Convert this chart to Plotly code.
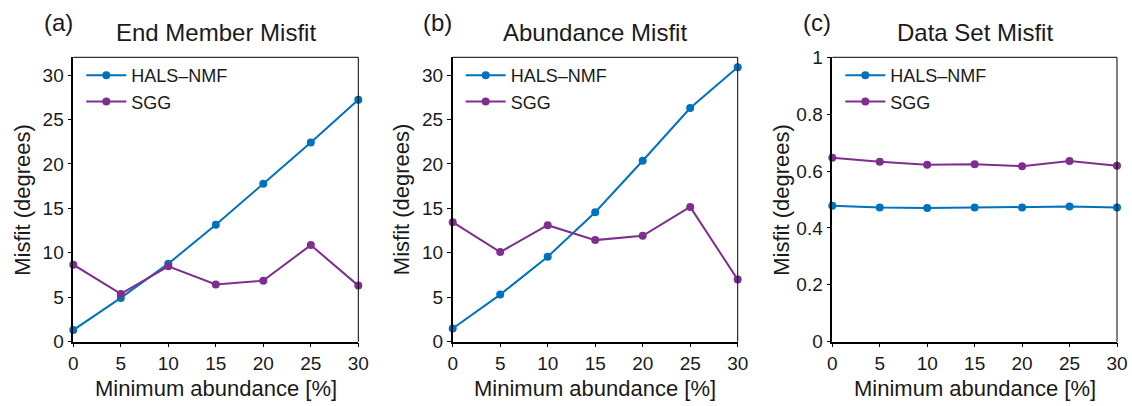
import plotly.graph_objects as go

x_vals = [0, 5, 10, 15, 20, 25, 30]

# (a) End Member Misfit
a_hals = [1.31, 4.93, 8.78, 13.15, 17.78, 22.41, 27.23]
a_sgg = [8.67, 5.38, 8.48, 6.43, 6.87, 10.87, 6.31]
# (b) Abundance Misfit
b_hals = [1.49, 5.30, 9.56, 14.57, 20.36, 26.30, 30.89]
b_sgg = [13.45, 10.09, 13.11, 11.43, 11.92, 15.17, 6.99]
# (c) Data Set Misfit
c_hals = [0.478, 0.472, 0.470, 0.472, 0.472, 0.475, 0.472]
c_sgg = [0.647, 0.633, 0.622, 0.624, 0.617, 0.635, 0.619]

panel_titles = ["End Member Misfit", "Abundance Misfit", "Data Set Misfit"]
panel_labels = ["(a)", "(b)", "(c)"]
series_names = ["HALS\u2013NMF", "SGG"]
x_title = "Minimum abundance [%]"
y_title = "Misfit (degrees)"

BLUE = "#0072BD"
PURPLE = "#7E2F8E"
TXT = "#1a1a1a"
FONT = "Liberation Sans, Arial, sans-serif"

W, H = 1132, 406
# plot area pixel boxes
boxes = [(73.3, 358.3), (452.7, 737.7), (832.3, 1117.0)]
top_px, bot_px = 57.3, 341.7
ydom = [1 - bot_px / H, 1 - top_px / H]

data = [(a_hals, a_sgg), (b_hals, b_sgg), (c_hals, c_sgg)]
yranges = [[0, 32], [0, 32], [0, 1]]
ytickvals = [[0, 5, 10, 15, 20, 25, 30], [0, 5, 10, 15, 20, 25, 30],
             [0, 0.2, 0.4, 0.6, 0.8, 1]]
yticktext = [["0", "5", "10", "15", "20", "25", "30"],
             ["0", "5", "10", "15", "20", "25", "30"],
             ["0", "0.2", "0.4", "0.6", "0.8", "1"]]

fig = go.Figure()
layout = dict(
    width=W, height=H,
    margin=dict(l=0, r=0, t=0, b=0, autoexpand=False),
    paper_bgcolor="white", plot_bgcolor="white",
    font=dict(family=FONT, size=18, color=TXT),
    showlegend=True,
)
annotations = []
shapes = []
for i, ((hals, sgg), (x0, x1)) in enumerate(zip(data, boxes)):
    xa = "x" if i == 0 else f"x{i+1}"
    ya = "y" if i == 0 else f"y{i+1}"
    lg = "legend" if i == 0 else f"legend{i+1}"
    for vals, name, col in [(hals, series_names[0], BLUE), (sgg, series_names[1], PURPLE)]:
        fig.add_trace(go.Scatter(
            x=x_vals, y=vals, name=name, mode="lines+markers",
            line=dict(color=col, width=2),
            marker=dict(color=col, size=8),
            xaxis=xa, yaxis=ya, legend=lg, cliponaxis=False,
        ))
    kx = "xaxis" if i == 0 else f"xaxis{i+1}"
    ky = "yaxis" if i == 0 else f"yaxis{i+1}"
    layout[kx] = dict(
        domain=[x0 / W, x1 / W], anchor=ya, range=[0, 30],
        tickvals=x_vals, ticktext=[str(v) for v in x_vals],
        ticks="outside", ticklen=4, tickwidth=1, tickcolor="black",
        showline=True, linecolor="black", linewidth=1.5,
        showgrid=False, zeroline=False, fixedrange=True,
        tickfont=dict(size=19, family=FONT, color=TXT),
    )
    layout[ky] = dict(
        domain=ydom, anchor=xa, range=yranges[i],
        tickvals=ytickvals[i], ticktext=yticktext[i],
        ticks="outside", ticklen=4, tickwidth=1, tickcolor="black",
        showline=True, linecolor="black", linewidth=1.5,
        showgrid=False, zeroline=False, fixedrange=True,
        tickfont=dict(size=19, family=FONT, color=TXT),
    )
    layout[lg] = dict(
        x=(x0 + 8) / W, y=1 - 57 / H, xanchor="left", yanchor="top",
        bgcolor="rgba(0,0,0,0)", borderwidth=0,
        font=dict(size=18, family=FONT, color=TXT),
        itemwidth=40, tracegroupgap=0,
    )
    # thin top and right frame lines
    shapes.append(dict(type="line", xref=f"{xa} domain", yref=f"{ya} domain",
                       x0=0, x1=1, y0=1, y1=1, line=dict(color="black", width=1)))
    shapes.append(dict(type="line", xref=f"{xa} domain", yref=f"{ya} domain",
                       x0=1, x1=1, y0=0, y1=1, line=dict(color="black", width=1)))
    cx = (x0 + x1) / 2
    annotations.append(dict(text=panel_titles[i], x=cx / W, y=1 - 33 / H,
                            xref="paper", yref="paper", showarrow=False,
                            xanchor="center", yanchor="middle",
                            font=dict(size=24, family=FONT, color=TXT)))
    annotations.append(dict(text=panel_labels[i], x=(x0 - 15) / W, y=1 - 22 / H,
                            xref="paper", yref="paper", showarrow=False,
                            xanchor="center", yanchor="middle",
                            font=dict(size=24, family=FONT, color=TXT)))
    annotations.append(dict(text=x_title, x=cx / W, y=1 - 388 / H,
                            xref="paper", yref="paper", showarrow=False,
                            xanchor="center", yanchor="middle",
                            font=dict(size=22, family=FONT, color=TXT)))
    annotations.append(dict(text=y_title, x=(x0 - 51) / W, y=1 - 199.5 / H,
                            xref="paper", yref="paper", showarrow=False,
                            xanchor="center", yanchor="middle", textangle=-90,
                            font=dict(size=22, family=FONT, color=TXT)))

layout["annotations"] = annotations
layout["shapes"] = shapes
fig.update_layout(**layout)
fig.write_html("out.html")
